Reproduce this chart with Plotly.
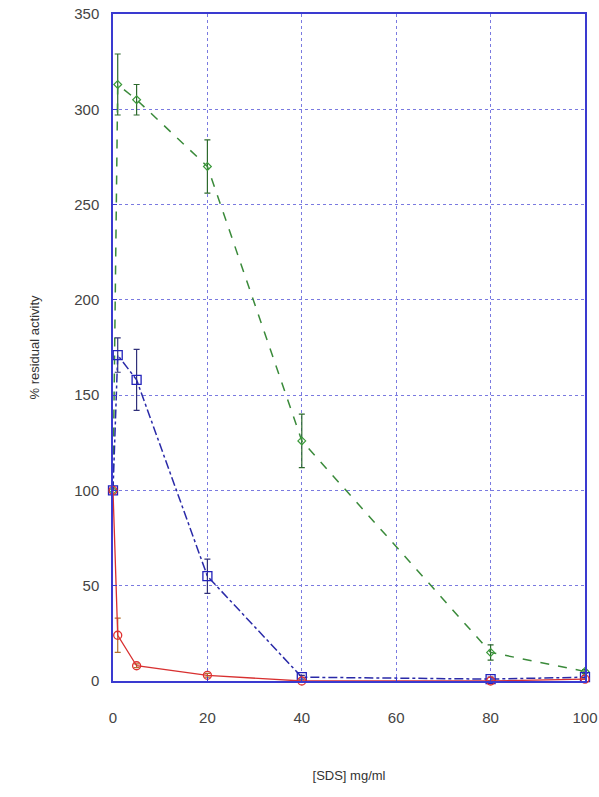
import plotly.graph_objects as go

sds = [0, 1, 5, 20, 40, 80, 100]

green_vals = [100, 313, 305, 270, 126, 15, 5]
green_err = [0, 16, 8, 14, 14, 4, 1]

blue_vals = [100, 171, 158, 55, 2, 1, 2]
blue_err = [0, 9, 16, 9, 1, 1, 1]

red_vals = [100, 24, 8, 3, 0, 0, 1]
red_err = [0, 9, 1, 1, 0, 0, 0]

x_ticks = [0, 20, 40, 60, 80, 100]
y_ticks = [0, 50, 100, 150, 200, 250, 300, 350]

fig = go.Figure()

fig.add_trace(go.Scatter(
    x=sds, y=green_vals, mode="lines+markers",
    line=dict(color="#3a8a3a", width=1.5, dash="dash"),
    marker=dict(symbol="diamond-open", size=6, color="#3a9a3a", line=dict(width=1.2)),
    error_y=dict(type="data", array=green_err, color="#2d6a2d", thickness=1.2, width=3),
    showlegend=False, cliponaxis=False))

fig.add_trace(go.Scatter(
    x=sds, y=blue_vals, mode="lines+markers",
    line=dict(color="#2a2aa8", width=1.5, dash="dashdot"),
    marker=dict(symbol="square-open", size=9, color="#2222bb", line=dict(width=1.3)),
    error_y=dict(type="data", array=blue_err, color="#30307a", thickness=1.2, width=3),
    showlegend=False, cliponaxis=False))

fig.add_trace(go.Scatter(
    x=sds, y=red_vals, mode="lines+markers",
    line=dict(color="#d83030", width=1.3),
    marker=dict(symbol="circle-open", size=8, color="#e03030", line=dict(width=1.3)),
    error_y=dict(type="data", array=red_err, color="#b07030", thickness=1.2, width=3),
    showlegend=False, cliponaxis=False))

axis_common = dict(
    showgrid=True, gridcolor="#7a7ae0", griddash="dot", gridwidth=1,
    showline=True, linecolor="#3a3ad0", linewidth=1.5, mirror=True,
    ticks="inside", tickcolor="#3a3ad0", ticklen=4,
    zeroline=False, automargin=False,
    tickfont=dict(family="Liberation Sans, Arial", size=15, color="#444444"),
    title_font=dict(family="Liberation Sans, Arial", size=13, color="#333333"),
)

fig.update_xaxes(range=[0, 100], tickvals=x_ticks, ticklabelstandoff=22,
                 title_text="[SDS] mg/ml", title_standoff=46, **axis_common)
fig.update_yaxes(range=[0, 350], tickvals=y_ticks, ticklabelstandoff=9,
                 title_text="% residual activity", title_standoff=32, **axis_common)

fig.update_layout(
    width=599, height=797,
    margin=dict(l=113, r=14, t=14, b=116),
    plot_bgcolor="white", paper_bgcolor="white",
)

fig.write_html("out.html", config={"displayModeBar": False},
               post_script="document.body.style.margin='0';document.body.style.overflow='hidden';")
